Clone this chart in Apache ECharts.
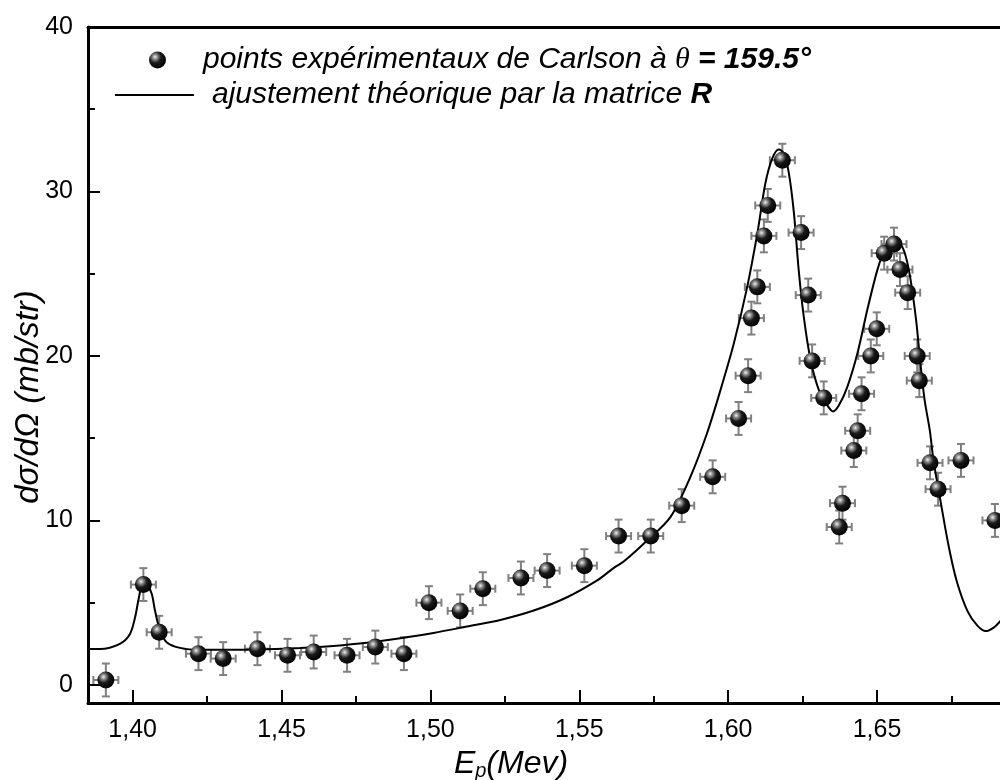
<!DOCTYPE html>
<html>
<head>
<meta charset="utf-8">
<script src="https://cdn.jsdelivr.net/npm/echarts@6/dist/echarts.min.js"></script>
<style>
  html, body { margin: 0; padding: 0; background: #ffffff; }
  #chart { width: 1000px; height: 780px; }
</style>
</head>
<body>
<div id="chart"></div>
<script>
// Carlson measurements: proton energy (MeV) and cross section (mb/str)
const energy = [
  1.3910, 1.4036, 1.4089, 1.4221, 1.4304, 1.4419, 1.4520, 1.4608, 1.4720, 1.4815,
  1.4911, 1.4995, 1.5100, 1.5176, 1.5304, 1.5392, 1.5517, 1.5632, 1.5740, 1.5844,
  1.5948, 1.6035, 1.6067, 1.6078, 1.6098, 1.6120, 1.6133, 1.6182, 1.6245, 1.6269,
  1.6282, 1.6321, 1.6373, 1.6384, 1.6422, 1.6435, 1.6448, 1.6479, 1.6499, 1.6524,
  1.6557, 1.6577, 1.6603, 1.6635, 1.6642, 1.6678, 1.6705, 1.6782, 1.6896
];
const sigma = [
  0.3, 6.1, 3.2, 1.9, 1.6, 2.2, 1.8, 2.0, 1.8, 2.3,
  1.9, 5.0, 4.5, 5.85, 6.5, 6.95, 7.25, 9.05, 9.05, 10.9,
  12.65, 16.2, 18.8, 22.3, 24.2, 27.3, 29.15, 31.9, 27.5, 23.7,
  19.7, 17.45, 9.6, 11.05, 14.25, 15.45, 17.7, 20.0, 21.65, 26.25,
  26.8, 25.25, 23.85, 20.0, 18.5, 13.5, 11.9, 13.65, 10.0
];
// uncertainties of each measurement
const energyError = 0.0042;
const sigmaError = 1.0;

// R-matrix fit curve
const fitEnergy = [
  1.3850, 1.3890, 1.3957, 1.3991, 1.4008, 1.4019, 1.4030, 1.4040, 1.4047, 1.4064,
  1.4075, 1.4092, 1.4114, 1.4159, 1.4226, 1.4338, 1.4450, 1.4562, 1.4674, 1.4787,
  1.4899, 1.5010, 1.5123, 1.5235, 1.5347, 1.5459, 1.5560, 1.5615, 1.5649, 1.5728,
  1.5806, 1.5873, 1.5929, 1.5974, 1.6019, 1.6064, 1.6098, 1.6125, 1.6148, 1.6170,
  1.6187, 1.6204, 1.6221, 1.6237, 1.6254, 1.6277, 1.6305, 1.6333, 1.6352, 1.6372,
  1.6400, 1.6434, 1.6467, 1.6501, 1.6529, 1.6557, 1.6585, 1.6607, 1.6630, 1.6646,
  1.6660, 1.6677, 1.6690, 1.6714, 1.6741, 1.6767, 1.6803, 1.6837, 1.6865, 1.6893,
  1.6915, 1.6935
];
const fitSigma = [
  2.19, 2.19, 2.50, 3.10, 4.10, 5.13, 6.04, 6.26, 6.18, 5.54,
  4.52, 3.30, 2.60, 2.25, 2.13, 2.13, 2.17, 2.25, 2.37, 2.56,
  2.84, 3.16, 3.55, 3.95, 4.52, 5.33, 6.35, 7.10, 7.50, 8.78,
  10.2, 12.64, 15.3, 17.91, 20.75, 24.2, 27.45, 30.5, 32.0, 32.55,
  32.32, 31.1, 28.67, 25.2, 22.37, 19.74, 17.91, 17.0, 16.63, 17.0,
  18.11, 20.15, 22.78, 25.22, 26.63, 27.06, 26.63, 25.22, 22.37, 19.5,
  17.3, 15.5, 13.6, 11.1, 8.4, 6.35, 4.52, 3.6, 3.27, 3.5,
  3.9, 4.4
];

// axis ticks
const xTicks = [1.40, 1.45, 1.50, 1.55, 1.60, 1.65];
const xMinorTicks = [1.425, 1.475, 1.525, 1.575, 1.625, 1.675];
const yTicks = [0, 10, 20, 30, 40];
const yMinorTicks = [5, 15, 25, 35];

const X_MIN = 1.385, X_MAX = 1.6913;
const Y_MIN = -1.1, Y_MAX = 40;

const FONT = 'Liberation Sans';
const points = energy.map((e, i) => [e, sigma[i]]);
const fit = fitEnergy.map((e, i) => [e, fitSigma[i]]);

const sphere = {
  type: 'radial', x: 0.36, y: 0.32, r: 0.72,
  colorStops: [
    { offset: 0, color: '#f0f0f0' },
    { offset: 0.2, color: '#8c8c8c' },
    { offset: 0.48, color: '#1a1a1a' },
    { offset: 1, color: '#000000' }
  ]
};

const axisBlack = { color: '#000', width: 3 };
const italic = (size, extra) => Object.assign({ fontFamily: FONT, fontStyle: 'italic', fontSize: size, color: '#000' }, extra || {});

const chart = echarts.init(document.getElementById('chart'), null, { renderer: 'canvas' });
chart.setOption({
  backgroundColor: '#fff',
  animation: false,
  grid: { left: 88, right: 0, top: 27, bottom: 77, containLabel: false, outerBoundsMode: 'none' },
  legend: [
    {
      left: 144, top: 40, orient: 'vertical',
      itemWidth: 17, itemHeight: 17, selectedMode: false,
      data: [{ name: 'Carlson', icon: 'circle' }],
      formatter: () => '{t|points expérimentaux de Carlson à }{th|θ}{b| = 159.5°}',
      textStyle: {
        rich: {
          t: italic(30, { padding: [0, 0, 0, 32] }),
          th: { fontFamily: 'Liberation Serif', fontStyle: 'italic', fontSize: 30, color: '#000' },
          b: italic(30, { fontWeight: 'bold' })
        }
      }
    },
    {
      left: 110, top: 75, orient: 'vertical',
      itemWidth: 79, itemHeight: 17, selectedMode: false,
      data: [{ name: 'R-matrix', icon: 'path://M0,0H79V2H0Z' }],
      formatter: () => '{t|ajustement théorique par la matrice }{b|R}',
      textStyle: {
        rich: {
          t: italic(30, { padding: [0, 0, 0, 13] }),
          b: italic(30, { fontWeight: 'bold' })
        }
      }
    }
  ],
  xAxis: [
    {
      type: 'value', min: X_MIN, max: X_MAX, position: 'bottom',
      axisLine: { show: true, onZero: false, lineStyle: axisBlack },
      axisTick: { show: true, inside: true, length: 13, customValues: xTicks, lineStyle: { color: '#000', width: 2 } },
      axisLabel: {
        customValues: xTicks, margin: 15, color: '#000', fontFamily: FONT, fontSize: 25,
        formatter: v => v.toFixed(2).replace('.', ',')
      },
      splitLine: { show: false },
      name: '{e|E}{s|p}{e|(Mev)}',
      nameLocation: 'middle', nameGap: 30,
      nameTextStyle: {
        padding: [0, 66, 0, 0],
        rich: {
          e: italic(32, { verticalAlign: 'top', lineHeight: 34 }),
          s: italic(20, { verticalAlign: 'bottom', lineHeight: 22 })
        }
      }
    },
    {
      type: 'value', min: X_MIN, max: X_MAX, position: 'bottom',
      axisLine: { show: false, onZero: false },
      axisTick: { show: true, inside: true, length: 7, customValues: xMinorTicks, lineStyle: { color: '#000', width: 2 } },
      axisLabel: { show: false },
      splitLine: { show: false }
    },
    {
      type: 'value', min: X_MIN, max: X_MAX, position: 'top',
      axisLine: { show: true, onZero: false, lineStyle: axisBlack },
      axisTick: { show: false }, axisLabel: { show: false }, splitLine: { show: false }
    }
  ],
  yAxis: [
    {
      type: 'value', min: Y_MIN, max: Y_MAX, position: 'left',
      axisLine: { show: true, onZero: false, lineStyle: axisBlack },
      axisTick: { show: true, inside: true, length: 12, customValues: yTicks, lineStyle: { color: '#000', width: 2 } },
      axisLabel: { customValues: yTicks, margin: 15, color: '#000', fontFamily: FONT, fontSize: 25 },
      splitLine: { show: false },
      name: 'dσ/dΩ (mb/str)',
      nameLocation: 'middle', nameGap: 43, nameRotate: 90, nameMoveOverlap: false,
      nameTextStyle: italic(33, { padding: [0, 64, 0, 0] })
    },
    {
      type: 'value', min: Y_MIN, max: Y_MAX, position: 'left',
      axisLine: { show: false, onZero: false },
      axisTick: { show: true, inside: true, length: 7, customValues: yMinorTicks, lineStyle: { color: '#000', width: 2 } },
      axisLabel: { show: false },
      splitLine: { show: false }
    }
  ],
  series: [
    {
      name: 'R-matrix', type: 'line', data: fit,
      xAxisIndex: 0, yAxisIndex: 0,
      symbol: 'none', smooth: 0.3,
      lineStyle: { color: '#000', width: 2 }, itemStyle: { color: '#000' },
      z: 3, silent: true
    },
    {
      name: 'errors', type: 'custom', data: points,
      xAxisIndex: 0, yAxisIndex: 0, z: 2, silent: true,
      renderItem: (params, api) => {
        const x = api.value(0), y = api.value(1);
        const top = api.coord([x, y + sigmaError]);
        const bot = api.coord([x, y - sigmaError]);
        const l = api.coord([x - energyError, y]);
        const r = api.coord([x + energyError, y]);
        const cap = 4;
        const st = { stroke: '#808080', lineWidth: 2 };
        const seg = (x1, y1, x2, y2) => ({ type: 'line', shape: { x1, y1, x2, y2 }, style: st });
        return {
          type: 'group',
          children: [
            seg(top[0], top[1], bot[0], bot[1]),
            seg(top[0] - cap, top[1], top[0] + cap, top[1]),
            seg(bot[0] - cap, bot[1], bot[0] + cap, bot[1]),
            seg(l[0], l[1], r[0], r[1]),
            seg(l[0], l[1] - cap, l[0], l[1] + cap),
            seg(r[0], r[1] - cap, r[0], r[1] + cap)
          ]
        };
      }
    },
    {
      name: 'Carlson', type: 'scatter', data: points,
      xAxisIndex: 0, yAxisIndex: 0,
      symbol: 'circle', symbolSize: 17,
      itemStyle: { color: sphere, opacity: 1 },
      z: 4, silent: true
    }
  ]
});
</script>
</body>
</html>
